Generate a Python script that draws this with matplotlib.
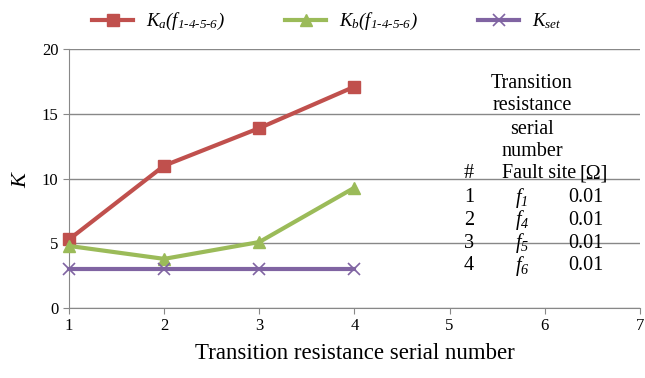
import matplotlib
matplotlib.use('Agg')
import matplotlib.pyplot as plt

serial = [1, 2, 3, 4]
k_a = [5.3, 11.0, 13.9, 17.1]
k_b = [4.8, 3.8, 5.1, 9.3]
k_set = [3, 3, 3, 3]

table_rows = ["1", "2", "3", "4"]
table_sites = ["$f_1$", "$f_4$", "$f_5$", "$f_6$"]
table_res = ["0.01", "0.01", "0.01", "0.01"]

plt.rcParams['font.family'] = ['Liberation Serif', 'DejaVu Serif']
# all math in this chart is italic, digits included
plt.rcParams['mathtext.fontset'] = 'custom'
plt.rcParams['mathtext.rm'] = 'Liberation Serif:italic'
plt.rcParams['mathtext.it'] = 'Liberation Serif:italic'

fig = plt.figure(figsize=(6.45, 3.78), dpi=100)
ax = fig.add_axes([0.107, 0.185, 0.885, 0.685])

sub = r"1\text{-}4\text{-}5\text{-}6"
ax.plot(serial, k_a, color="#C0504D", marker="s", markersize=9, linewidth=3,
        label=r"$K_a(f_{%s})$" % sub, zorder=3, clip_on=False)
ax.plot(serial, k_b, color="#9BBB59", marker="^", markersize=9, linewidth=3,
        label=r"$K_b(f_{%s})$" % sub, zorder=3, clip_on=False)
ax.plot(serial, k_set, color="#8064A2", marker="x", markersize=9, linewidth=3,
        markeredgewidth=1.2, label=r"$K_{set}$", zorder=3, clip_on=False)

ax.set_xlim(1, 7)
ax.set_ylim(0, 20)
ax.set_xticks(range(1, 8))
ax.set_yticks(range(0, 21, 5))
ax.yaxis.grid(True, color="#888888", linewidth=1)
ax.set_axisbelow(True)
for s in ["top", "right"]:
    ax.spines[s].set_visible(False)
for s in ["left", "bottom"]:
    ax.spines[s].set_color("#888888")
ax.tick_params(colors="#888888", labelcolor="black", labelsize=12, length=4)

ax.set_xlabel("Transition resistance serial number", fontsize=16.5, labelpad=6)
ax.set_ylabel("$K$", fontsize=16, labelpad=8)

fig.legend(loc="upper center", bbox_to_anchor=(0.507, 1.015), ncol=3, frameon=False,
           fontsize=13.5, handlelength=2.2, handletextpad=0.7, columnspacing=3.2)

# fault table drawn inside the axes
fs = 14.5
head = ["Transition", "resistance", "serial", "number"]
for i, t in enumerate(head):
    fig.text(532 / 645, 1 - (83 + i * 23) / 378, t, ha="center", va="center", fontsize=fs)
hy = 1 - 174 / 378
fig.text(469 / 645, hy, "#", ha="center", va="center", fontsize=fs)
fig.text(539 / 645, hy, "Fault site", ha="center", va="center", fontsize=fs)
fig.text(594 / 645, hy, "[Ω]", ha="center", va="center", fontsize=fs)
for i in range(len(table_rows)):
    y = 1 - (198 + i * 22.5) / 378
    fig.text(469 / 645, y, table_rows[i], ha="center", va="center", fontsize=fs)
    fig.text(522 / 645, y, table_sites[i], ha="center", va="center", fontsize=fs)
    fig.text(586 / 645, y, table_res[i], ha="center", va="center", fontsize=fs)

fig.savefig("out.png", dpi=100)
